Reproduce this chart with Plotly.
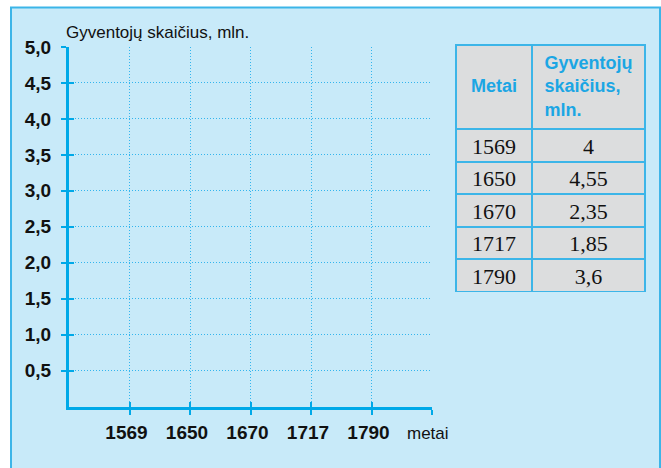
import plotly.graph_objects as go

# ---- data ----
years = ["1569", "1650", "1670", "1717", "1790"]
population = ["4", "4,55", "2,35", "1,85", "3,6"]
y_ticks = [0.5, 1.0, 1.5, 2.0, 2.5, 3.0, 3.5, 4.0, 4.5, 5.0]
y_tick_labels = ["0,5", "1,0", "1,5", "2,0", "2,5", "3,0", "3,5", "4,0", "4,5", "5,0"]
y_title = "Gyventojų skaičius, mln."
x_title = "metai"
table_header = ["\u00a0<br><b>Metai</b>", "<b>Gyventojų<br>skaičius,<br>mln.</b>"]

W, H = 661, 468
def px(x): return x / W
def py(y): return 1 - y / H

BLUE = "#00A9E8"
GRID = "#33B5EE"
BG = "#C8EAF9"
BORDER = "#3CB5E8"
GRAY = "#DCDDDE"

positions = list(range(1, len(years) + 1))
xtickvals = positions + [len(years) + 1]
xticktext = years + [""]

fig = go.Figure()
fig.add_trace(go.Scatter(x=positions, y=[None] * len(positions), xaxis="x", yaxis="y",
                         showlegend=False, hoverinfo="skip"))
fig.add_trace(go.Scatter(x=positions, y=[None] * len(positions), xaxis="x2", yaxis="y2",
                         showlegend=False, hoverinfo="skip"))

fig.add_trace(go.Table(
    domain=dict(x=[px(456), px(645)], y=[py(292), py(45)]),
    columnwidth=[76, 113],
    header=dict(values=table_header,
                fill_color=GRAY, line=dict(color=BORDER, width=2),
                font=dict(family="Liberation Sans", size=18, color="#1BA6E4"),
                align="center", height=84),
    cells=dict(values=[years, population],
               fill_color=GRAY, line=dict(color=BORDER, width=2),
               font=dict(family="Liberation Serif", size=22, color="#111111"),
               align="center", height=32.5),
))

xdom = [px(69), px(432)]
ydom = [py(406.5), py(47)]
xrange = [0, len(years) + 1]
yrange = [0, 5]

fig.update_layout(
    width=W, height=H,
    margin=dict(l=0, r=0, t=0, b=0, pad=0, autoexpand=False),
    paper_bgcolor="white",
    plot_bgcolor="white",
    xaxis=dict(domain=xdom, range=xrange, tickvals=xtickvals, ticktext=xticktext,
               showgrid=True, gridcolor=GRID, griddash="1px,2px", gridwidth=1,
               showline=True, linecolor=BLUE, linewidth=3,
               ticks="outside", ticklen=5, tickwidth=2, tickcolor=BLUE,
               ticklabelstandoff=2, ticklabelshift=-3, automargin=False,
               tickfont=dict(family="Liberation Sans", size=19, color="#111111", weight="bold"),
               zeroline=False, fixedrange=True),
    yaxis=dict(domain=ydom, range=yrange, tickvals=y_ticks, ticktext=y_tick_labels,
               showgrid=True, gridcolor=GRID, griddash="1px,2px", gridwidth=1,
               showline=True, linecolor=BLUE, linewidth=3,
               ticks="outside", ticklen=5, tickwidth=2, tickcolor=BLUE,
               ticklabelstandoff=6, automargin=False,
               tickfont=dict(family="Liberation Sans", size=19, color="#111111", weight="bold"),
               zeroline=False, fixedrange=True),
    xaxis2=dict(domain=xdom, range=xrange, tickvals=xtickvals, overlaying="x", anchor="y2",
                showgrid=False, showline=False, showticklabels=False, automargin=False,
                ticks="inside", ticklen=5, tickwidth=2, tickcolor=BLUE, zeroline=False),
    yaxis2=dict(domain=ydom, range=yrange, tickvals=y_ticks, overlaying="y", anchor="x2",
                showgrid=False, showline=False, showticklabels=False, automargin=False,
                ticks="inside", ticklen=5, tickwidth=2, tickcolor=BLUE, zeroline=False),
    shapes=[dict(type="rect", xref="paper", yref="paper", layer="below",
                 x0=px(11), x1=px(660), y0=py(490), y1=py(7.5),
                 fillcolor=BG, line=dict(color=BORDER, width=2))],
    annotations=[
        dict(text=y_title, xref="paper", yref="paper", x=px(63.5), y=py(33),
             xanchor="left", yanchor="middle", showarrow=False,
             font=dict(family="Liberation Sans", size=17, color="#111111")),
        dict(text=x_title, xref="paper", yref="paper", x=px(405), y=py(433),
             xanchor="left", yanchor="middle", showarrow=False,
             font=dict(family="Liberation Sans", size=17, color="#111111")),
    ],
)

fig.write_html("out.html", config={"displayModeBar": False},
               post_script="document.body.style.margin='0';document.body.style.overflow='hidden';")
